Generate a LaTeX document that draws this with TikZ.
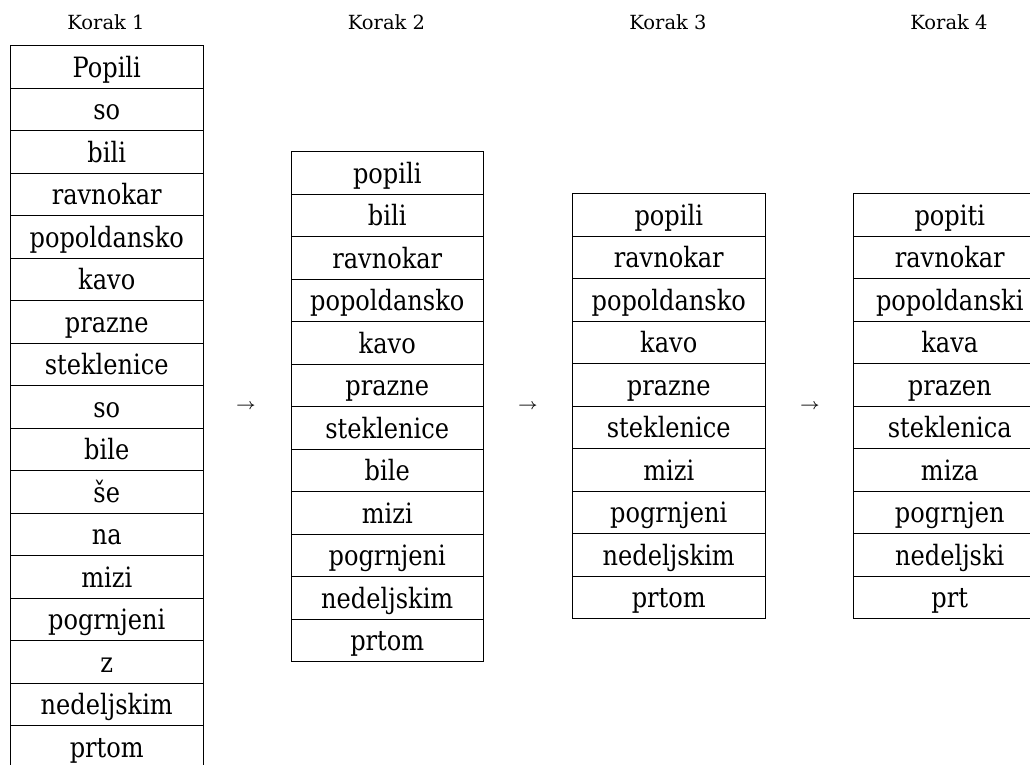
\documentclass[tikz,border=0pt]{standalone}
\usepackage{graphicx}
\usepackage{fontspec}
\setmainfont{DejaVu Serif}
\newfontfamily\cellfam{DejaVu Serif}[FakeStretch=0.86]
\newcommand\cw[1]{{\cellfam\fontsize{28}{33}\selectfont #1}}
\newcommand\hw[1]{{\rmfamily\fontsize{19.5}{24}\selectfont #1}}
\newcommand\aw[1]{\scalebox{3.1}{\fontsize{5}{6}\selectfont #1}}
\begin{document}
\begin{tikzpicture}[x=1pt,y=-1pt,
  cell/.style={draw, line width=1pt, minimum width=192.5pt, minimum height=42.5pt,
    inner sep=0pt, anchor=north west, text height=22pt, text depth=1.1pt},
  head/.style={inner sep=0pt, anchor=base, text height=15pt, text depth=0pt},
  arr/.style={inner sep=0pt}]
\useasboundingbox (0,0) rectangle (1030,764);
\clip (0,0) rectangle (1030,764);
% headers
\node[head] (h1) at (106,29) {\hw{Korak 1}};
\node[head] (h2) at (386.5,29) {\hw{Korak 2}};
\node[head] (h3) at (668,29) {\hw{Korak 3}};
\node[head] (h4) at (949,29) {\hw{Korak 4}};
% column 1
\foreach \w [count=\i from 0] in {Popili,so,bili,ravnokar,popoldansko,kavo,prazne,steklenice,so,bile,še,na,mizi,pogrnjeni,z,nedeljskim,prtom}
  \node[cell] (c1-\i) at (10,45+42.5*\i) {\cw{\w}};
% column 2
\foreach \w [count=\i from 0] in {popili,bili,ravnokar,popoldansko,kavo,prazne,steklenice,bile,mizi,pogrnjeni,nedeljskim,prtom}
  \node[cell] (c2-\i) at (290.5,151+42.5*\i) {\cw{\w}};
% column 3
\foreach \w [count=\i from 0] in {popili,ravnokar,popoldansko,kavo,prazne,steklenice,mizi,pogrnjeni,nedeljskim,prtom}
  \node[cell] (c3-\i) at (572,193+42.5*\i) {\cw{\w}};
% column 4
\foreach \w [count=\i from 0] in {popiti,ravnokar,popoldanski,kava,prazen,steklenica,miza,pogrnjen,nedeljski,prt}
  \node[cell] (c4-\i) at (853,193+42.5*\i) {\cw{\w}};
% arrows
\node[arr] (a1) at (246,406) {\aw{$\rightarrow$}};
\node[arr] (a2) at (528,406) {\aw{$\rightarrow$}};
\node[arr] (a3) at (810,406) {\aw{$\rightarrow$}};
\end{tikzpicture}
\end{document}
